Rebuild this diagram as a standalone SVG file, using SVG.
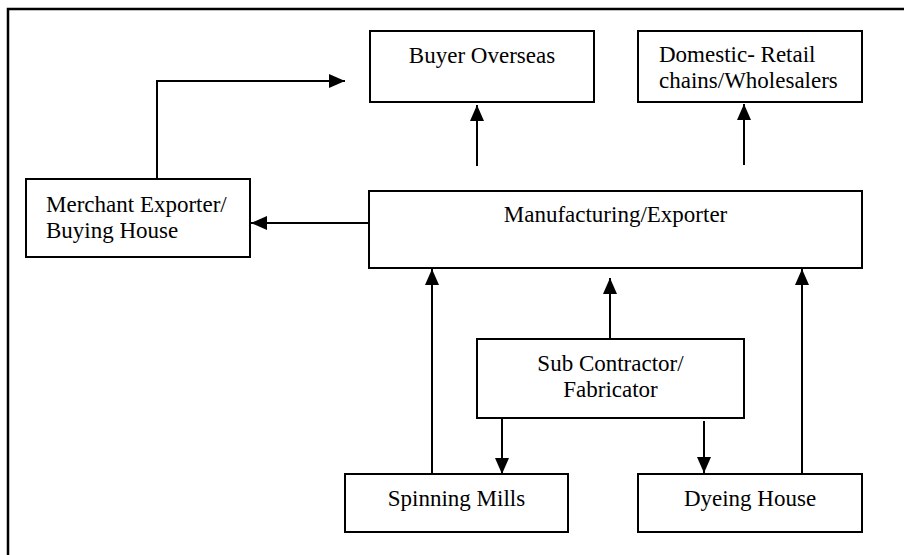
<svg xmlns="http://www.w3.org/2000/svg" width="904" height="555" viewBox="0 0 904 555">
<style>
.box{fill:#fff;stroke:#000;stroke-width:2}
.t{font-family:"Liberation Serif","Times New Roman",serif;font-size:23px;fill:#000}
.c{text-anchor:middle}
.ln{stroke:#000;stroke-width:2;fill:none}
</style>
<defs>
<marker id="ah" markerUnits="userSpaceOnUse" markerWidth="16" markerHeight="14" refX="16" refY="7" orient="auto">
<path d="M0,0 L16,7 L0,14 Z" fill="#000"/>
</marker>
</defs>
<rect width="904" height="555" fill="#fff"/>
<g id="frame"><path d="M8,555 L8,9 L904,9" stroke="#000" stroke-width="2.5" fill="none"/></g>
<g id="connectors">
<path class="ln" d="M157,179 L157,81 L345,81" marker-end="url(#ah)"/>
<path class="ln" d="M477,166 L477,105" marker-end="url(#ah)"/>
<path class="ln" d="M744,165 L744,104" marker-end="url(#ah)"/>
<path class="ln" d="M369,223 L251,223" marker-end="url(#ah)"/>
<path class="ln" d="M432,474 L432,269" marker-end="url(#ah)"/>
<path class="ln" d="M610,339 L610,278" marker-end="url(#ah)"/>
<path class="ln" d="M802,474 L802,269" marker-end="url(#ah)"/>
<path class="ln" d="M502,418 L502,474" marker-end="url(#ah)"/>
<path class="ln" d="M704,421 L704,473" marker-end="url(#ah)"/>
</g>
<g id="buyer"><rect class="box" x="370" y="31" width="224" height="71"/><text class="t c" x="482" y="63">Buyer Overseas</text></g>
<g id="domestic"><rect class="box" x="638" y="31" width="224" height="71"/><text class="t" x="659" y="62">Domestic- Retail</text><text class="t" x="659" y="88">chains/Wholesalers</text></g>
<g id="merchant"><rect class="box" x="26" y="179" width="224" height="78"/><text class="t" x="46" y="212">Merchant Exporter/</text><text class="t" x="46" y="238">Buying House</text></g>
<g id="manufacturing"><rect class="box" x="369" y="191" width="493" height="77"/><text class="t c" x="615.5" y="222">Manufacturing/Exporter</text></g>
<g id="subcontractor"><rect class="box" x="477" y="339" width="267" height="79"/><text class="t c" x="610.5" y="371">Sub Contractor/</text><text class="t c" x="610.5" y="397">Fabricator</text></g>
<g id="spinning"><rect class="box" x="345" y="474" width="223" height="58"/><text class="t c" x="456.5" y="506">Spinning Mills</text></g>
<g id="dyeing"><rect class="box" x="638" y="474" width="224" height="58"/><text class="t c" x="750" y="506">Dyeing House</text></g>
</svg>
